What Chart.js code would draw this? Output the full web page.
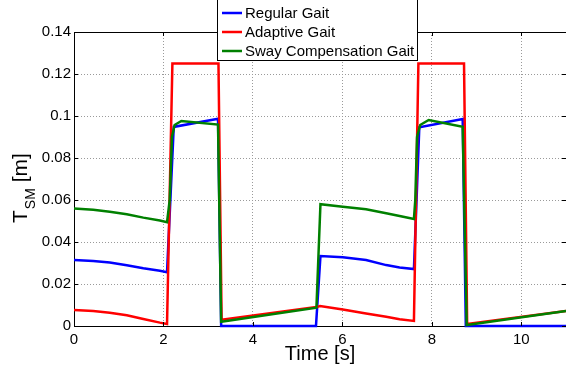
<!DOCTYPE html>
<html>
<head>
<meta charset="utf-8">
<script src="https://cdn.jsdelivr.net/npm/chart.js@4.4.0/dist/chart.umd.min.js"></script>
<style>
  html, body { margin: 0; padding: 0; background: #fff; }
  canvas { display: block; }
</style>
</head>
<body>
<canvas id="chart" width="566" height="372"></canvas>
<script>
"use strict";

// values (time in s, T_SM in m)
const regularT = [0, 0.43, 0.8, 1.18, 1.55, 1.92, 2.08, 2.23, 3.22, 3.29, 5.41, 5.51, 6.01, 6.53, 6.98, 7.28, 7.6, 7.72, 8.69, 8.76, 11];
const regularV = [0.0314, 0.031, 0.0302, 0.0289, 0.0275, 0.0263, 0.0256, 0.0948, 0.0987, 0, 0, 0.0333, 0.0327, 0.0314, 0.029, 0.0279, 0.0271, 0.0946, 0.0986, 0, 0];

const adaptiveT = [0, 0.43, 0.8, 1.18, 1.55, 1.92, 2.08, 2.2, 3.23, 3.3, 5.42, 5.5, 6.01, 6.53, 6.98, 7.28, 7.6, 7.7, 8.72, 8.79, 11];
const adaptiveV = [0.0076, 0.0071, 0.0063, 0.0051, 0.0033, 0.0016, 0.001, 0.125, 0.125, 0.003, 0.009, 0.0095, 0.0079, 0.006, 0.0044, 0.0032, 0.0024, 0.125, 0.125, 0.001, 0.0072];

const swayT = [0, 0.43, 0.8, 1.18, 1.55, 1.92, 2.08, 2.14, 2.19, 2.25, 2.4, 3.22, 3.29, 5.42, 5.51, 6.01, 6.53, 6.98, 7.28, 7.6, 7.63, 7.67, 7.74, 7.93, 8.69, 8.78, 11];
const swayV = [0.056, 0.0554, 0.0544, 0.0532, 0.0516, 0.0502, 0.0494, 0.06, 0.09, 0.0957, 0.0976, 0.0959, 0.002, 0.0087, 0.058, 0.0568, 0.0556, 0.0537, 0.0524, 0.051, 0.06, 0.09, 0.0957, 0.0981, 0.0949, 0.0005, 0.0072];

const seriesNames = ["Regular Gait", "Adaptive Gait", "Sway Compensation Gait"];
const seriesColors = ["#0000ff", "#ff0000", "#008000"];

const FONT = "'Liberation Sans', Arial, Helvetica, sans-serif";

function toPoints(ts, vs) {
  return ts.map((t, i) => ({ x: t, y: vs[i] }));
}

// axis frame, inward ticks, legend and axis titles (matlab look)
const matlabFrame = {
  id: "matlabFrame",
  afterDraw(chart) {
    const { ctx, chartArea: a, scales } = chart;
    const xs = scales.x;
    const ys = scales.y;
    ctx.save();
    ctx.strokeStyle = "#000";
    ctx.lineWidth = 1;
    ctx.beginPath();
    ctx.moveTo(a.left, Math.round(a.top) + 0.5);
    ctx.lineTo(a.right, Math.round(a.top) + 0.5);
    xs.ticks.forEach((t) => {
      const px = Math.round(xs.getPixelForValue(t.value)) + 0.5;
      ctx.moveTo(px, a.bottom);
      ctx.lineTo(px, a.bottom - 4);
      ctx.moveTo(px, a.top);
      ctx.lineTo(px, a.top + 4);
    });
    ys.ticks.forEach((t) => {
      const py = Math.round(ys.getPixelForValue(t.value)) + 0.5;
      ctx.moveTo(a.left, py);
      ctx.lineTo(a.left + 4, py);
      ctx.moveTo(a.right, py);
      ctx.lineTo(a.right - 4, py);
    });
    ctx.stroke();

    // legend box
    ctx.fillStyle = "#fff";
    ctx.fillRect(217, -1, 200, 61);
    ctx.strokeRect(217.5, -0.5, 200, 61);
    ctx.font = "15px " + FONT;
    ctx.textBaseline = "middle";
    ctx.textAlign = "left";
    chart.data.datasets.forEach((ds, i) => {
      const ry = 13 + i * 19;
      ctx.strokeStyle = ds.borderColor;
      ctx.lineWidth = 2.5;
      ctx.beginPath();
      ctx.moveTo(222, ry);
      ctx.lineTo(242, ry);
      ctx.stroke();
      ctx.fillStyle = "#000";
      ctx.fillText(ds.label, 245, ry + 1);
    });

    // x title
    ctx.fillStyle = "#000";
    ctx.textAlign = "center";
    ctx.textBaseline = "alphabetic";
    ctx.font = "20px " + FONT;
    ctx.fillText("Time [s]", (a.left + a.right) / 2, 360);

    // y title with subscript
    ctx.translate(27, 0);
    ctx.rotate(-Math.PI / 2);
    ctx.textAlign = "left";
    let u = -223;
    ctx.font = "21px " + FONT;
    ctx.fillText("T", u, 0);
    u += ctx.measureText("T").width + 1;
    ctx.font = "14px " + FONT;
    ctx.fillText("SM", u, 8);
    u += ctx.measureText("SM").width;
    ctx.font = "21px " + FONT;
    ctx.fillText(" [m]", u, 0);
    ctx.restore();
  },
};

const datasets = [
  toPoints(regularT, regularV),
  toPoints(adaptiveT, adaptiveV),
  toPoints(swayT, swayV),
].map((pts, i) => ({
  label: seriesNames[i],
  data: pts,
  borderColor: seriesColors[i],
  backgroundColor: seriesColors[i],
  borderWidth: 2.5,
  pointRadius: 0,
  tension: 0,
  fill: false,
  clip: 4,
  order: 2 - i,
}));

new Chart(document.getElementById("chart").getContext("2d"), {
  type: "line",
  data: { datasets: datasets },
  options: {
    responsive: false,
    animation: false,
    layout: { padding: { top: 32, right: 0, left: 0, bottom: 0 } },
    plugins: {
      legend: { display: false },
      tooltip: { enabled: false },
    },
    scales: {
      x: {
        type: "linear",
        min: 0,
        max: 11,
        afterFit: (s) => { s.height = 46; },
        ticks: {
          stepSize: 2,
          includeBounds: false,
          maxRotation: 0,
          padding: 5,
          color: "#000",
          font: { family: FONT, size: 15 },
        },
        grid: { color: "#9a9a9a", lineWidth: 1, drawTicks: false },
        border: { display: true, color: "#000", width: 1, dash: [1, 2] },
      },
      y: {
        min: 0,
        max: 0.14,
        afterFit: (s) => { s.width = 74; },
        ticks: {
          stepSize: 0.02,
          padding: 3,
          color: "#000",
          font: { family: FONT, size: 15 },
          callback: (v) => String(+v.toFixed(2)),
        },
        grid: { color: "#9a9a9a", lineWidth: 1, drawTicks: false },
        border: { display: true, color: "#000", width: 1, dash: [1, 2] },
      },
    },
  },
  plugins: [matlabFrame],
});
</script>
</body>
</html>
